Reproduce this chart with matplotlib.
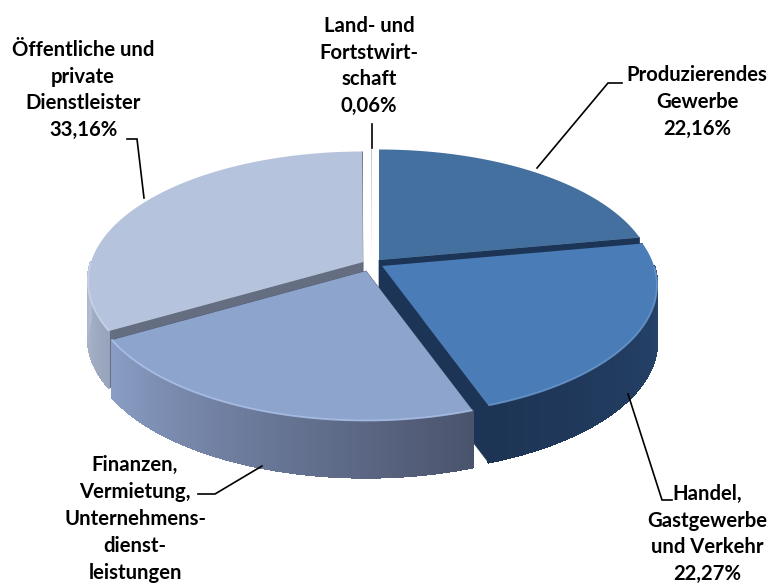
import numpy as np
import matplotlib
matplotlib.use("Agg")
import matplotlib.pyplot as plt
from matplotlib.collections import PolyCollection
from matplotlib.colors import to_rgb
from matplotlib.patches import Polygon

# Data
names = ["Produzierendes\nGewerbe", "Handel,\nGastgewerbe\nund Verkehr",
         "Finanzen,\nVermietung,\nUnternehmens-\ndienst-\nleistungen",
         "Öffentliche und\nprivate\nDienstleister", "Land- und\nFortstwirt-\nschaft"]
values = [22.16, 22.27, 22.35, 33.16, 0.06]
# The reference's canvas ends before the Finanzen label reaches its percentage.
value_shown = [True, True, False, True, True]

# Styling
apex = [(379, 260), (382, 266), (366, 271), (363, 262), (372, 260)]
top_colors = ["#44709F", "#4A7DB8", "#8DA4CC", "#B6C3DC", "#B4BDCB"]
cut_colors = ["#1C3557", "#1C3557", "#4A536C", "#646E80", "#B4BDCB"]
wall_stops = [("#2A4A73", "#2A4A73"), ("#27456D", "#1D3454"),
              ("#4A536C", "#8A9EC5"), ("#97A3BA", "#B0BBD2"), ("#B4BDCB", "#B4BDCB")]
rim_colors = ["#5A86B5", "#6E9BD0", "#AFC4EC", "#CBD6EA", "#B4BDCB"]
label_pos = [(697, 102), (707, 534), (135, 519), (83, 90), (369, 66)]
leaders = [[(622, 83), (608, 83), (537, 168)],
           [(672, 500), (662, 500), (628, 394)],
           [(198, 494), (215, 494), (262, 466)],
           [(127, 139), (137, 139), (144, 198)],
           [(372, 124), (372, 148)]]
RX, RY, KP, DEPTH = 272, 130, 0.15, 57

fig = plt.figure(figsize=(7.74, 5.87), dpi=100)
ax = fig.add_axes([0, 0, 1, 1])
ax.set_xlim(0, 774)
ax.set_ylim(587, 0)
ax.axis("off")


def rim(t, centre):
    """Screen position of the pie rim at clockwise angle t (degrees from top)."""
    r = np.radians(t)
    x, y = np.sin(r), np.cos(r)
    p = 1 - KP * y
    return np.column_stack([centre[0] + RX * x * p, centre[1] - RY * y * p])


def mix(a, b, f):
    a, b = np.array(to_rgb(a)), np.array(to_rgb(b))
    return tuple(a + (b - a) * f)


edges = np.concatenate([[0], np.cumsum(values)]) * 3.6
for i in [4, 3, 0, 1, 2]:
    t0, t1 = edges[i], edges[i + 1]
    ts = np.linspace(t0, t1, max(int(t1 - t0) * 2 + 2, 2))
    pts = rim(ts, apex[i])
    c = np.array(apex[i], float)
    down = np.array([0, DEPTH])

    # cut faces at both ends of the slice
    if i != 4:
        for e in (pts[0], pts[-1]):
            ax.add_patch(Polygon([c, e, e + down, c + down], closed=True,
                                 fc=cut_colors[i], ec=cut_colors[i], lw=0.5,
                                 zorder=1))

    # rim wall, shaded strip by strip across the front of the pie
    front = ts[(ts >= 90) & (ts <= 270)]
    if len(front) > 1 and i != 4:
        fp = rim(front, apex[i])
        polys, cols = [], []
        for k in range(len(front) - 1):
            polys.append([fp[k], fp[k + 1], fp[k + 1] + down, fp[k] + down])
            cols.append(mix(wall_stops[i][0], wall_stops[i][1],
                            (k + 0.5) / (len(front) - 1)))
        ax.add_collection(PolyCollection(polys, facecolors=cols, edgecolors=cols,
                                         linewidths=1.0, antialiased=False, zorder=1))

    # top face
    ax.add_patch(Polygon(np.vstack([c, pts]), closed=True, fc=top_colors[i],
                         ec="none", zorder=1))
    if len(front) > 1:
        fp = rim(front, apex[i])
        ax.plot(fp[:, 0], fp[:, 1], color=rim_colors[i], lw=1.3, alpha=0.8,
                solid_capstyle="butt", zorder=1)

for seg in leaders:
    xs, ys = zip(*seg)
    ax.plot(xs, ys, color="black", lw=1.2, zorder=3, solid_joinstyle="miter")

for name, v, shown, (x, y) in zip(names, values, value_shown, label_pos):
    label = name + (f"\n{v:.2f}".replace(".", ",") + "%" if shown else "")
    ax.text(x, y, label, ha="center", va="center",
            family="Lato", weight="bold", fontsize=14.6, linespacing=1.43,
            color="black", zorder=4)

fig.savefig("out.png", dpi=100)
